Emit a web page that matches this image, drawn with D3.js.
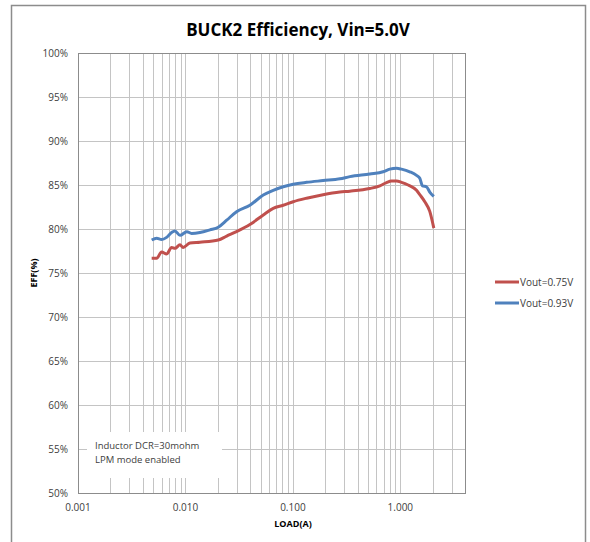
<!DOCTYPE html>
<html>
<head>
<meta charset="utf-8">
<title>BUCK2 Efficiency</title>
<script src="https://d3js.org/d3.v7.min.js"></script>
<style>
  body { margin: 0; background: #fff; font-family: "Open Sans", Arial, sans-serif; }
  .grid line { stroke: #c4c4c4; stroke-width: 1; }
  .tick-label { font-size: 10px; fill: #404040; }
</style>
</head>
<body>
<div id="chart"></div>
<script>
// Data
const seriesNames = ["Vout=0.75V", "Vout=0.93V"];
const seriesColors = ["#c0504d", "#4f81bd"];

const loadRed = [0.00485, 0.0054, 0.0060, 0.00668, 0.00744, 0.00798, 0.0089, 0.0095, 0.0110, 0.01364,
  0.0202, 0.0242, 0.0299, 0.0398, 0.053, 0.0656, 0.0813, 0.1007, 0.134, 0.191, 0.274,
  0.339, 0.520, 0.645, 0.744, 0.828, 0.922, 1.026, 1.183, 1.415, 1.518, 1.690, 1.88, 2.05];
const effRed = [76.67, 76.67, 77.4, 77.16, 77.9, 77.8, 78.2, 77.9, 78.4, 78.5,
  78.75, 79.2, 79.7, 80.5, 81.6, 82.35, 82.7, 83.1, 83.5, 83.9, 84.2,
  84.3, 84.6, 84.9, 85.27, 85.45, 85.45, 85.3, 85.0, 84.4, 83.9, 83.1, 82.0, 80.1];

const loadBlue = [0.00485, 0.0054, 0.0060, 0.00668, 0.00744, 0.00798, 0.0089, 0.0103, 0.0114, 0.01364,
  0.0169, 0.0202, 0.0242, 0.0299, 0.0398, 0.053, 0.0656, 0.0813, 0.1007, 0.134, 0.191, 0.274,
  0.339, 0.520, 0.692, 0.798, 0.922, 1.026, 1.225, 1.415, 1.518, 1.609, 1.753, 1.88, 2.05];
const effBlue = [78.75, 78.94, 78.8, 79.05, 79.6, 79.77, 79.28, 79.7, 79.5, 79.6,
  79.9, 80.2, 81.0, 81.97, 82.7, 83.86, 84.4, 84.8, 85.08, 85.3, 85.5, 85.7,
  85.95, 86.25, 86.5, 86.8, 86.9, 86.8, 86.5, 86.1, 85.76, 84.9, 84.8, 84.2, 83.7];

const xTickValues = [0.001, 0.01, 0.1, 1];
const yTickValues = [50, 55, 60, 65, 70, 75, 80, 85, 90, 95, 100];
const noteLines = ["Inductor DCR=30mohm", "LPM mode enabled"];

const width = 590, height = 542;
const plot = { left: 78, top: 53, right: 465, bottom: 493 };

const svg = d3.select("#chart").append("svg")
  .attr("width", width).attr("height", height);

// outer chart frame
svg.append("rect")
  .attr("x", 11.5).attr("y", 5.5).attr("width", 574).attr("height", 560)
  .attr("fill", "none").attr("stroke", "#8c8c8c").attr("stroke-width", 1.5);

const x = d3.scaleLog().domain([0.001, 4]).range([plot.left, plot.right]);
const y = d3.scaleLinear().domain([50, 100]).range([plot.bottom, plot.top]);

// minor + major vertical gridlines
const gridX = [];
for (let d = 0.001; d < 4; d *= 10) {
  for (let m = 1; m <= 9; m++) {
    const v = d * m;
    if (v > 0.001 && v < 4) gridX.push(v);
  }
}
const grid = svg.append("g").attr("class", "grid");
grid.selectAll("line.v").data(gridX).join("line")
  .attr("class", "v")
  .attr("x1", d => Math.round(x(d)) + 0.5).attr("x2", d => Math.round(x(d)) + 0.5)
  .attr("y1", plot.top).attr("y2", plot.bottom);
grid.selectAll("line.h").data(yTickValues.slice(1)).join("line")
  .attr("class", "h")
  .attr("x1", plot.left).attr("x2", plot.right)
  .attr("y1", d => Math.round(y(d)) + 0.5).attr("y2", d => Math.round(y(d)) + 0.5);

// plot area border
svg.append("rect")
  .attr("x", plot.left + 0.5).attr("y", plot.top + 0.5)
  .attr("width", plot.right - plot.left).attr("height", plot.bottom - plot.top)
  .attr("fill", "none").attr("stroke", "#8c8c8c").attr("stroke-width", 1);

// axis tick labels
svg.append("g").selectAll("text").data(yTickValues).join("text")
  .attr("class", "tick-label")
  .attr("x", plot.left - 10).attr("y", d => y(d) + 3.5)
  .attr("text-anchor", "end")
  .text(d => d + "%");
svg.append("g").selectAll("text").data(xTickValues).join("text")
  .attr("class", "tick-label")
  .attr("x", d => x(d)).attr("y", plot.bottom + 18)
  .attr("text-anchor", "middle")
  .text(d => d3.format(".3f")(d));

// annotation box
const noteG = svg.append("g");
noteG.append("rect")
  .attr("x", 87).attr("y", 432).attr("width", 135).attr("height", 46)
  .attr("fill", "#fff");
noteG.selectAll("text").data(noteLines).join("text")
  .attr("x", 95).attr("y", (d, i) => 449 + i * 14)
  .attr("font-size", "9.5px").attr("fill", "#404040")
  .text(d => d);

// series
const series = [
  { name: seriesNames[0], color: seriesColors[0], xs: loadRed, ys: effRed },
  { name: seriesNames[1], color: seriesColors[1], xs: loadBlue, ys: effBlue }
];
const line = d3.line()
  .x(d => x(d[0])).y(d => y(d[1]))
  .curve(d3.curveMonotoneX);
svg.append("g").selectAll("path").data(series).join("path")
  .attr("d", s => line(s.xs.map((v, i) => [v, s.ys[i]])))
  .attr("fill", "none")
  .attr("stroke", s => s.color)
  .attr("stroke-width", 3)
  .attr("stroke-linejoin", "round");

// legend
const legend = svg.append("g").selectAll("g").data(series).join("g")
  .attr("transform", (d, i) => `translate(495, ${282 + i * 21})`);
legend.append("line")
  .attr("x1", 0).attr("x2", 24).attr("y1", 0).attr("y2", 0)
  .attr("stroke", d => d.color).attr("stroke-width", 3);
legend.append("text")
  .attr("x", 25).attr("y", 3.5)
  .attr("font-size", "10px").attr("fill", "#404040")
  .text(d => d.name);

// title and axis titles
svg.append("text")
  .attr("x", 298).attr("y", 36)
  .attr("text-anchor", "middle")
  .attr("font-size", "17px").attr("font-weight", "bold").attr("fill", "#000")
  .text("BUCK2 Efficiency, Vin=5.0V");
svg.append("text")
  .attr("transform", "translate(37, 273) rotate(-90)")
  .attr("text-anchor", "middle")
  .attr("font-size", "9px").attr("font-weight", "bold").attr("fill", "#000")
  .text("EFF(%)");
svg.append("text")
  .attr("x", 293).attr("y", 527)
  .attr("text-anchor", "middle")
  .attr("font-size", "9px").attr("font-weight", "bold").attr("fill", "#000")
  .text("LOAD(A)");
</script>
</body>
</html>
